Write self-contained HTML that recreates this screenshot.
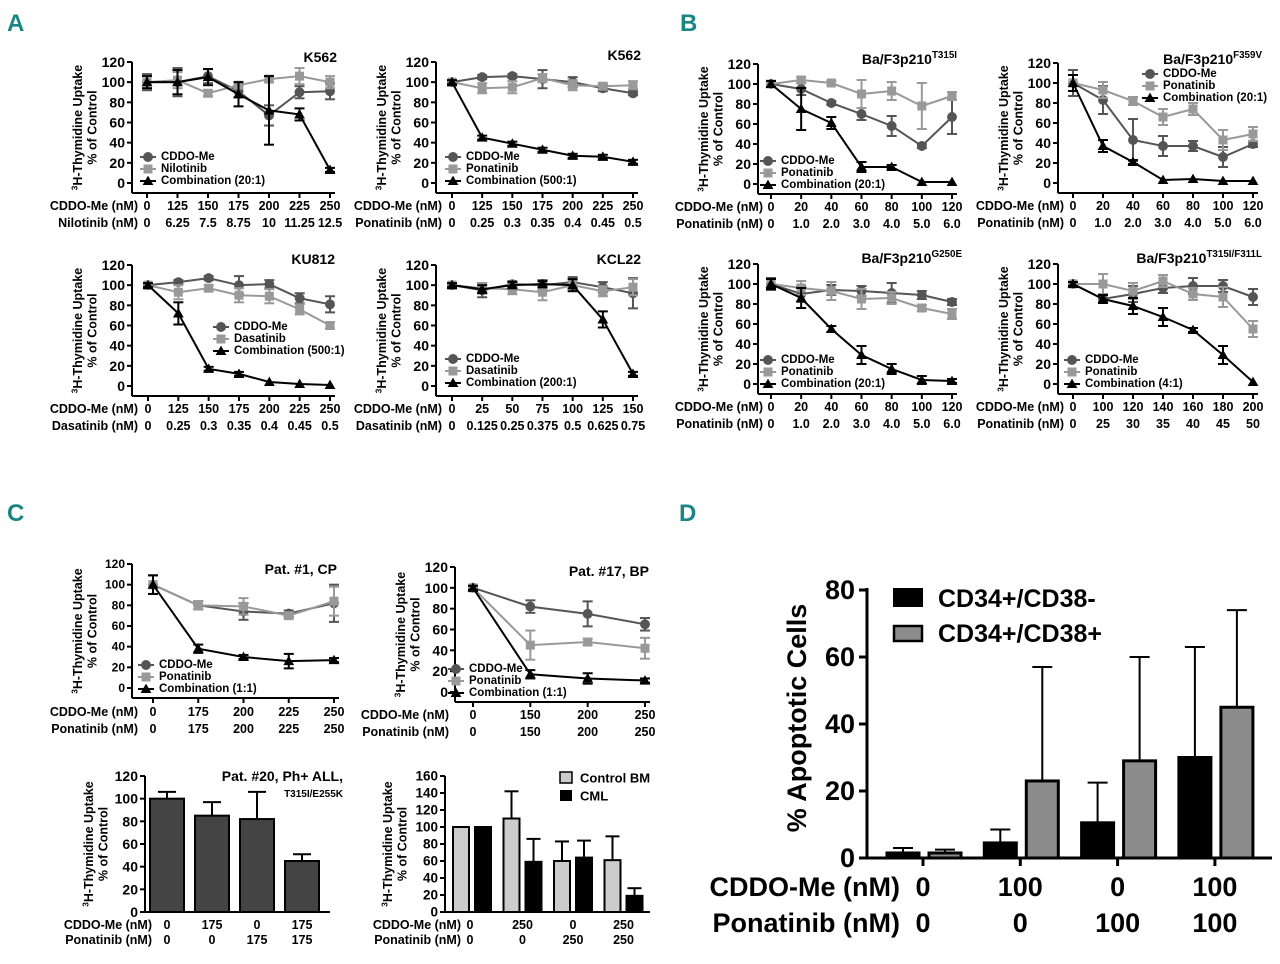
<!DOCTYPE html>
<html><head><meta charset="utf-8"><style>
html,body{margin:0;padding:0;background:#fff;}
svg{display:block;font-family:"Liberation Sans",Arial,sans-serif;font-weight:bold;}
</style></head>
<body>
<svg id="fig" width="1280" height="964" viewBox="0 0 1280 964" xmlns="http://www.w3.org/2000/svg">
<text x="7" y="31" font-size="24" fill="#1a8585" style="font-family:'Liberation Sans Narrow','Liberation Sans',sans-serif">A</text>
<text x="680" y="31" font-size="24" fill="#1a8585" style="font-family:'Liberation Sans Narrow','Liberation Sans',sans-serif">B</text>
<text x="7" y="521" font-size="24" fill="#1a8585" style="font-family:'Liberation Sans Narrow','Liberation Sans',sans-serif">C</text>
<text x="679" y="521" font-size="24" fill="#1a8585" style="font-family:'Liberation Sans Narrow','Liberation Sans',sans-serif">D</text>
</svg>
<script>
// ---------- DATA ----------
const a1Cats1=['0','125','150','175','200','225','250'];
const a1Cats2=['0','6.25','7.5','8.75','10','11.25','12.5'];
const a1Cddo=[100,100,106,91,67,90,91];
const a1CddoErr=[8,14,7,6,10,6,8];
const a1Drug=[100,102,89,97,103,106,100];
const a1DrugErr=[6,8,3,3,3,8,6];
const a1Combo=[100,100,105,88,72,68,13];
const a1ComboErr=[6,12,8,12,34,6,2];

const a2Cats1=['0','125','150','175','200','225','250'];
const a2Cats2=['0','0.25','0.3','0.35','0.4','0.45','0.5'];
const a2Cddo=[100,105,106,103,100,94,89];
const a2CddoErr=[2,2,2,9,5,3,2];
const a2Drug=[100,94,95,104,97,96,97];
const a2DrugErr=[2,5,6,4,5,3,4];
const a2Combo=[100,45,39,33,27,26,21];
const a2ComboErr=[2,2,2,2,2,2,2];

const a3Cats1=['0','125','150','175','200','225','250'];
const a3Cats2=['0','0.25','0.3','0.35','0.4','0.45','0.5'];
const a3Cddo=[100,103,107,100,101,87,81];
const a3CddoErr=[2,2,2,9,4,5,8];
const a3Drug=[100,93,97,90,89,76,60];
const a3DrugErr=[2,7,3,7,7,5,3];
const a3Combo=[100,72,17,12,4,2,1];
const a3ComboErr=[2,11,2,2,1,1,1];

const a4Cats1=['0','25','50','75','100','125','150'];
const a4Cats2=['0','0.125','0.25','0.375','0.5','0.625','0.75'];
const a4Cddo=[100,95,101,100,103,98,92];
const a4CddoErr=[2,7,3,5,5,5,15];
const a4Drug=[100,97,96,93,100,94,98];
const a4DrugErr=[2,5,5,8,4,5,8];
const a4Combo=[100,96,100,101,100,66,12];
const a4ComboErr=[2,4,3,3,6,8,2];

const b1Cats1=['0','20','40','60','80','100','120'];
const b1Cats2=['0','1.0','2.0','3.0','4.0','5.0','6.0'];
const b1Cddo=[100,95,81,70,58,38,67];
const b1CddoErr=[3,6,2,6,10,2,17];
const b1Drug=[100,104,101,90,93,78,88];
const b1DrugErr=[3,3,2,14,9,23,4];
const b1Combo=[100,75,61,17,17,2,2];
const b1ComboErr=[3,21,6,5,2,1,1];

const b2Cats1=['0','20','40','60','80','100','120'];
const b2Cats2=['0','1.0','2.0','3.0','4.0','5.0','6.0'];
const b2Cddo=[100,83,43,37,37,26,39];
const b2CddoErr=[13,14,21,10,5,10,3];
const b2Drug=[100,93,82,66,74,43,49];
const b2DrugErr=[8,8,4,8,6,10,7];
const b2Combo=[100,37,21,3,4,2,2];
const b2ComboErr=[8,6,2,1,1,1,1];

const b3Cats1=['0','20','40','60','80','100','120'];
const b3Cats2=['0','1.0','2.0','3.0','4.0','5.0','6.0'];
const b3Cddo=[100,90,94,93,91,89,82];
const b3CddoErr=[6,8,5,5,10,4,3];
const b3Drug=[100,96,93,85,86,76,70];
const b3DrugErr=[5,7,9,10,6,3,5];
const b3Combo=[100,86,55,29,15,4,3];
const b3ComboErr=[5,10,3,9,5,4,2];

const b4Cats1=['0','100','120','140','160','180','200'];
const b4Cats2=['0','25','30','35','40','45','50'];
const b4Cddo=[100,85,90,96,98,98,87];
const b4CddoErr=[2,4,8,5,8,6,8];
const b4Drug=[100,100,93,103,90,87,55];
const b4DrugErr=[2,10,8,6,6,10,8];
const b4Combo=[100,85,78,67,54,29,2];
const b4ComboErr=[2,4,8,9,2,9,1];

const c1Cats1=['0','175','200','225','250'];
const c1Cats2=['0','175','200','225','250'];
const c1Cddo=[100,80,74,72,82];
const c1CddoErr=[9,4,8,3,18];
const c1Drug=[100,80,79,70,84];
const c1DrugErr=[9,4,8,3,14];
const c1Combo=[100,38,30,26,27];
const c1ComboErr=[9,4,2,7,2];

const c2Cats1=['0','150','200','250'];
const c2Cats2=['0','150','200','250'];
const c2Cddo=[100,82,75,65];
const c2CddoErr=[2,6,12,6];
const c2Drug=[100,45,48,42];
const c2DrugErr=[2,14,3,10];
const c2Combo=[100,17,13,11];
const c2ComboErr=[2,4,5,2];

const c3Cats1=['0','175','0','175'];
const c3Cats2=['0','0','175','175'];
const c3Values=[100,85,82,45];
const c3Err=[6,12,24,6];

const c4Cats1=['0','250','0','250'];
const c4Cats2=['0','0','250','250'];
const c4Control=[100,110,60,61];
const c4ControlErr=[0,32,23,28];
const c4Cml=[100,59,64,19];
const c4CmlErr=[0,27,20,9];

const dCats1=['0','100','0','100'];
const dCats2=['0','0','100','100'];
const dNeg=[1.5,4.5,10.5,30];
const dNegErr=[1.5,4,12,33];
const dPos=[1.5,23,29,45];
const dPosErr=[1,34,31,29];

// ---------- HELPERS ----------
const NS='http://www.w3.org/2000/svg';
const root=document.getElementById('fig');
function mk(tag,attrs,name,parent,text){
  const e=document.createElementNS(NS,tag);
  for(const k in attrs) e.setAttribute(k,attrs[k]);
  
  
  if(text!==undefined) e.textContent=text;
  (parent||root).appendChild(e);
  return e;
}
const DARK='#555', LIGHT='#999', BLK='#000';

function marker(g,type,x,y,color,s){
  if(type==='circle') mk('circle',{cx:x,cy:y,r:s*0.55,fill:color},'marker-circle',g);
  else if(type==='square') mk('rect',{x:x-s/2,y:y-s/2,width:s,height:s,fill:color},'marker-square',g);
  else mk('polygon',{points:`${x},${y-s*0.6} ${x+s*0.6},${y+s*0.45} ${x-s*0.6},${y+s*0.45}`,fill:color},'marker-triangle',g);
}

function yTitle(g,x,cy,fs){
  const t=mk('text',{transform:`translate(${x},${cy}) rotate(-90)`,'text-anchor':'middle','font-size':fs},'y-axis-title',g);
  const s1=mk('tspan',{'font-size':fs*0.65,dy:-fs*0.35},'superscript',t,'3');
  const s2=mk('tspan',{dy:fs*0.35},'y-title-line1',t,'H-Thymidine Uptake');
  const s3=mk('tspan',{x:0,dy:fs*1.15},'y-title-line2',t,'% of Control');
}

function axesY(g,c,yS){
  mk('line',{x1:c.ax,y1:c.yTop,x2:c.ax,y2:c.xa,stroke:'#000','stroke-width':2},'y-axis-line',g);
  for(let v=0;v<=c.ymax;v+=c.ystep){
    mk('line',{x1:c.ax-5,y1:yS(v),x2:c.ax,y2:yS(v),stroke:'#000','stroke-width':2},'y-tick',g);
    mk('text',{x:c.ax-7,y:yS(v),'text-anchor':'end','dominant-baseline':'central','font-size':c.tfs},'y-tick-label',g,String(v));
  }
  yTitle(g,c.ax-c.ytOff,(c.yTop+c.xa)/2,c.ytfs);
}

function rowLabels(g,c,xs,cats1,cats2){
  mk('text',{x:c.rlx,y:c.xa+c.r1,'text-anchor':'end','dominant-baseline':'central','font-size':c.cfs},'x-row-label-cddo',g,'CDDO-Me (nM)');
  mk('text',{x:c.rlx,y:c.xa+c.r2,'text-anchor':'end','dominant-baseline':'central','font-size':c.cfs},'x-row-label-drug',g,c.drug+' (nM)');
  cats1.forEach((t,i)=>mk('text',{x:xs(i),y:c.xa+c.r1,'text-anchor':'middle','dominant-baseline':'central','font-size':c.cfs},'x-tick-label-cddo',g,t));
  cats2.forEach((t,i)=>mk('text',{x:xs(i),y:c.xa+c.r2,'text-anchor':'middle','dominant-baseline':'central','font-size':c.cfs},'x-tick-label-drug',g,t));
}

function lineChart(c){
  const g=mk('g',{},c.name);
  const yS=v=>c.y0-(v/c.ymax)*(c.y0-c.yTop);
  const n=c.cats1.length;
  const xS=i=>c.px0+i*(c.px1-c.px0)/(n-1);
  axesY(g,c,yS);
  mk('line',{x1:c.ax,y1:c.xa,x2:c.px1+5,y2:c.xa,stroke:'#000','stroke-width':2},'x-axis-line',g);
  for(let i=0;i<n;i++) mk('line',{x1:xS(i),y1:c.xa,x2:xS(i),y2:c.xa+5,stroke:'#000','stroke-width':2},'x-tick',g);
  rowLabels(g,c,xS,c.cats1,c.cats2);
  c.series.forEach(s=>{
    const sg=mk('g',{},'series-'+s.key,g);
    mk('polyline',{points:s.vals.map((v,i)=>`${xS(i)},${yS(v)}`).join(' '),fill:'none',stroke:s.color,'stroke-width':2},'series-line',sg);
    s.vals.forEach((v,i)=>{
      const e=s.err[i];
      if(e>1){
        mk('line',{x1:xS(i),y1:yS(v+e),x2:xS(i),y2:yS(v-e),stroke:s.color,'stroke-width':2},'error-bar',sg);
        mk('line',{x1:xS(i)-5,y1:yS(v+e),x2:xS(i)+5,y2:yS(v+e),stroke:s.color,'stroke-width':2},'error-cap',sg);
        mk('line',{x1:xS(i)-5,y1:yS(v-e),x2:xS(i)+5,y2:yS(v-e),stroke:s.color,'stroke-width':2},'error-cap',sg);
      }
      marker(sg,s.m,xS(i),yS(v),s.color,9);
    });
  });
  const lg=mk('g',{},'legend',g);
  c.series.forEach((s,k)=>{
    const y=c.ly+k*c.lstep;
    mk('line',{x1:c.lx-8,y1:y,x2:c.lx+8,y2:y,stroke:s.color,'stroke-width':2},'legend-line',lg);
    marker(lg,s.m,c.lx,y,s.color,9);
    mk('text',{x:c.lx+13,y:y,'dominant-baseline':'central','font-size':c.lfs},'legend-entry',lg,s.label);
  });
  const t=mk('text',{x:c.tx,y:c.ty,'text-anchor':'end','font-size':c.titleFs},'chart-title',g,c.title);
  if(c.sup) mk('tspan',{'font-size':c.titleFs*0.7,dy:-6},'title-superscript',t,c.sup);
}

function mkSeries(cd,ce,dv,de,combo,ce2,drugName,comboLabel){
  return [
    {key:'cddo',label:'CDDO-Me',vals:cd,err:ce,color:DARK,m:'circle'},
    {key:'drug',label:drugName,vals:dv,err:de,color:LIGHT,m:'square'},
    {key:'combo',label:comboLabel,vals:combo,err:ce2,color:BLK,m:'triangle'}
  ];
}
const base={ymax:120,ystep:20,tfs:14,titleFs:14,ytfs:12.5,ytOff:50,cfs:12.5,lfs:11.5,r1:13,r2:30,lstep:12};

lineChart(Object.assign({},base,{name:'chart-a1-k562-nilotinib',ax:132,y0:183,yTop:62,xa:193,px0:147,px1:330,rlx:138,drug:'Nilotinib',cats1:a1Cats1,cats2:a1Cats2,
  series:mkSeries(a1Cddo,a1CddoErr,a1Drug,a1DrugErr,a1Combo,a1ComboErr,'Nilotinib','Combination (20:1)'),lx:148,ly:157,title:'K562',tx:337,ty:62}));
lineChart(Object.assign({},base,{name:'chart-a2-k562-ponatinib',ax:436,y0:183,yTop:62,xa:193,px0:452,px1:633,rlx:442,drug:'Ponatinib',cats1:a2Cats1,cats2:a2Cats2,
  series:mkSeries(a2Cddo,a2CddoErr,a2Drug,a2DrugErr,a2Combo,a2ComboErr,'Ponatinib','Combination (500:1)'),lx:453,ly:157,title:'K562',tx:641,ty:60}));
lineChart(Object.assign({},base,{name:'chart-a3-ku812-dasatinib',ax:132,y0:386,yTop:265,xa:396,px0:148,px1:330,rlx:138,drug:'Dasatinib',cats1:a3Cats1,cats2:a3Cats2,
  series:mkSeries(a3Cddo,a3CddoErr,a3Drug,a3DrugErr,a3Combo,a3ComboErr,'Dasatinib','Combination (500:1)'),lx:221,ly:327,title:'KU812',tx:335,ty:264}));
lineChart(Object.assign({},base,{name:'chart-a4-kcl22-dasatinib',ax:436,y0:386,yTop:265,xa:396,px0:452,px1:633,rlx:442,drug:'Dasatinib',cats1:a4Cats1,cats2:a4Cats2,
  series:mkSeries(a4Cddo,a4CddoErr,a4Drug,a4DrugErr,a4Combo,a4ComboErr,'Dasatinib','Combination (200:1)'),lx:453,ly:359,title:'KCL22',tx:641,ty:264}));

lineChart(Object.assign({},base,{name:'chart-b1-t315i',ax:758,y0:184,yTop:64,xa:194,px0:771,px1:952,rlx:763,drug:'Ponatinib',cats1:b1Cats1,cats2:b1Cats2,
  series:mkSeries(b1Cddo,b1CddoErr,b1Drug,b1DrugErr,b1Combo,b1ComboErr,'Ponatinib','Combination (20:1)'),lx:768,ly:161,title:'Ba/F3p210',sup:'T315I',tx:957,ty:64}));
lineChart(Object.assign({},base,{name:'chart-b2-f359v',ax:1058,y0:183,yTop:63,xa:193,px0:1073,px1:1253,rlx:1064,drug:'Ponatinib',cats1:b2Cats1,cats2:b2Cats2,
  series:mkSeries(b2Cddo,b2CddoErr,b2Drug,b2DrugErr,b2Combo,b2ComboErr,'Ponatinib','Combination (20:1)'),lx:1150,ly:74,title:'Ba/F3p210',sup:'F359V',tx:1262,ty:64}));
lineChart(Object.assign({},base,{name:'chart-b3-g250e',ax:758,y0:384,yTop:264,xa:394,px0:771,px1:952,rlx:763,drug:'Ponatinib',cats1:b3Cats1,cats2:b3Cats2,
  series:mkSeries(b3Cddo,b3CddoErr,b3Drug,b3DrugErr,b3Combo,b3ComboErr,'Ponatinib','Combination (20:1)'),lx:768,ly:360,title:'Ba/F3p210',sup:'G250E',tx:962,ty:263}));
lineChart(Object.assign({},base,{name:'chart-b4-t315i-f311l',ax:1058,y0:384,yTop:264,xa:394,px0:1073,px1:1253,rlx:1064,drug:'Ponatinib',cats1:b4Cats1,cats2:b4Cats2,
  series:mkSeries(b4Cddo,b4CddoErr,b4Drug,b4DrugErr,b4Combo,b4ComboErr,'Ponatinib','Combination (4:1)'),lx:1072,ly:360,title:'Ba/F3p210',sup:'T315I/F311L',tx:1262,ty:263}));

lineChart(Object.assign({},base,{name:'chart-c1-patient1',ax:132,y0:688,yTop:564,xa:698,px0:153,px1:334,rlx:138,drug:'Ponatinib',tfs:12,cats1:c1Cats1,cats2:c1Cats2,
  series:mkSeries(c1Cddo,c1CddoErr,c1Drug,c1DrugErr,c1Combo,c1ComboErr,'Ponatinib','Combination (1:1)'),lx:146,ly:665,title:'Pat. #1, CP',tx:337,ty:574,r1:14,r2:31}));
lineChart(Object.assign({},base,{name:'chart-c2-patient17',ax:455,y0:692,yTop:567,xa:702,px0:473,px1:645,rlx:449,drug:'Ponatinib',cats1:c2Cats1,cats2:c2Cats2,
  series:mkSeries(c2Cddo,c2CddoErr,c2Drug,c2DrugErr,c2Combo,c2ComboErr,'Ponatinib','Combination (1:1)'),lx:456,ly:669,title:'Pat. #17, BP',tx:649,ty:576,r1:13,r2:30}));

// ---------- BAR CHARTS ----------
function errUp(g,x,yTop,yErr,cw){
  mk('line',{x1:x,y1:yTop,x2:x,y2:yErr,stroke:'#000','stroke-width':2},'error-bar',g);
  mk('line',{x1:x-cw,y1:yErr,x2:x+cw,y2:yErr,stroke:'#000','stroke-width':2},'error-cap',g);
}
// C3
(function(){
  const c=Object.assign({},base,{ax:145,y0:912,yTop:776,xa:912,ymax:120,ystep:20,ytOff:52,drug:'Ponatinib',rlx:152,r1:13,r2:28,cfs:12.5});
  const g=mk('g',{},'chart-c3-patient20');
  const yS=v=>c.y0-(v/c.ymax)*(c.y0-c.yTop);
  const xs=i=>167+i*45;
  axesY(g,c,yS);
  mk('line',{x1:c.ax,y1:c.xa,x2:330,y2:c.xa,stroke:'#000','stroke-width':2},'x-axis-line',g);
  c3Values.forEach((v,i)=>{
    errUp(g,xs(i),yS(v),yS(v+c3Err[i]),9);
    mk('rect',{x:xs(i)-17,y:yS(v),width:34,height:c.y0-yS(v),fill:'#444',stroke:'#000','stroke-width':2},'bar',g);
  });
  rowLabels(g,c,xs,c3Cats1,c3Cats2);
  mk('text',{x:343,y:781,'text-anchor':'end','font-size':14},'chart-title',g,'Pat. #20, Ph+ ALL,');
  mk('text',{x:343,y:797,'text-anchor':'end','font-size':10},'chart-subtitle',g,'T315I/E255K');
})();
// C4
(function(){
  const c=Object.assign({},base,{ax:445,y0:912,yTop:776,xa:912,ymax:160,ystep:20,ytOff:53,drug:'Ponatinib',rlx:461,r1:13,r2:28,cfs:12.5,tfs:13.5});
  const g=mk('g',{},'chart-c4-control-vs-cml');
  const yS=v=>c.y0-(v/c.ymax)*(c.y0-c.yTop);
  const xs=i=>471+i*50.5;
  axesY(g,c,yS);
  mk('line',{x1:c.ax,y1:c.xa,x2:650,y2:c.xa,stroke:'#000','stroke-width':2},'x-axis-line',g);
  c4Control.forEach((v,i)=>{
    const x=xs(i)-10;
    if(c4ControlErr[i]>0) errUp(g,x,yS(v),yS(v+c4ControlErr[i]),7);
    mk('rect',{x:x-8,y:yS(v),width:16,height:c.y0-yS(v),fill:'#ccc',stroke:'#000','stroke-width':2},'bar-control',g);
  });
  c4Cml.forEach((v,i)=>{
    const x=xs(i)+12;
    if(c4CmlErr[i]>0) errUp(g,x,yS(v),yS(v+c4CmlErr[i]),7);
    mk('rect',{x:x-8,y:yS(v),width:16,height:c.y0-yS(v),fill:'#000',stroke:'#000','stroke-width':2},'bar-cml',g);
  });
  rowLabels(g,c,i=>i===0?c.ax+25:xs(i)+1,c4Cats1,c4Cats2);
  const lg=mk('g',{},'legend',g);
  mk('rect',{x:560,y:772,width:12,height:11,fill:'#ccc',stroke:'#000','stroke-width':1.5},'legend-swatch-control',lg);
  mk('text',{x:580,y:778,'dominant-baseline':'central','font-size':13},'legend-entry',lg,'Control BM');
  mk('rect',{x:560,y:790,width:12,height:11,fill:'#000'},'legend-swatch-cml',lg);
  mk('text',{x:580,y:796,'dominant-baseline':'central','font-size':13},'legend-entry',lg,'CML');
})();
// D
(function(){
  const ax=867,y0=858,yTop=590,ymax=80;
  const g=mk('g',{},'chart-d-apoptosis');
  const yS=v=>y0-(v/ymax)*(y0-yTop);
  const xs=i=>923+i*97.3;
  mk('line',{x1:ax,y1:yTop-2,x2:ax,y2:y0,stroke:'#000','stroke-width':3},'y-axis-line',g);
  mk('line',{x1:ax,y1:y0,x2:1272,y2:y0,stroke:'#000','stroke-width':3},'x-axis-line',g);
  for(let v=0;v<=ymax;v+=20){
    mk('line',{x1:ax-8,y1:yS(v),x2:ax,y2:yS(v),stroke:'#000','stroke-width':3},'y-tick',g);
    mk('text',{x:ax-12,y:yS(v),'text-anchor':'end','dominant-baseline':'central','font-size':27},'y-tick-label',g,String(v));
  }
  mk('text',{transform:`translate(806,718) rotate(-90)`,'text-anchor':'middle','font-size':27},'y-axis-title',g,'% Apoptotic Cells');
  dNeg.forEach((v,i)=>{
    const x=xs(i)-20;
    errUp(g,x,yS(v),yS(v+dNegErr[i]),10);
    mk('rect',{x:x-16,y:yS(v),width:32,height:y0-yS(v),fill:'#000',stroke:'#000','stroke-width':3},'bar-cd38-neg',g);
  });
  dPos.forEach((v,i)=>{
    const x=xs(i)+22;
    errUp(g,x,yS(v),yS(v+dPosErr[i]),10);
    mk('rect',{x:x-16,y:yS(v),width:32,height:y0-yS(v),fill:'#8c8c8c',stroke:'#000','stroke-width':3},'bar-cd38-pos',g);
  });
  dCats1.forEach((t,i)=>{
    mk('line',{x1:xs(i),y1:y0,x2:xs(i),y2:y0+8,stroke:'#000','stroke-width':3},'x-tick',g);
    mk('text',{x:xs(i),y:887,'text-anchor':'middle','dominant-baseline':'central','font-size':27},'x-tick-label-cddo',g,t);
  });
  dCats2.forEach((t,i)=>mk('text',{x:xs(i),y:923,'text-anchor':'middle','dominant-baseline':'central','font-size':27},'x-tick-label-drug',g,t));
  mk('text',{x:900,y:887,'text-anchor':'end','dominant-baseline':'central','font-size':27},'x-row-label-cddo',g,'CDDO-Me (nM)');
  mk('text',{x:900,y:923,'text-anchor':'end','dominant-baseline':'central','font-size':27},'x-row-label-drug',g,'Ponatinib (nM)');
  const lg=mk('g',{},'legend',g);
  mk('rect',{x:894,y:589,width:28,height:17,fill:'#000',stroke:'#000','stroke-width':2},'legend-swatch-neg',lg);
  mk('text',{x:938,y:599,'dominant-baseline':'central','font-size':25},'legend-entry',lg,'CD34+/CD38-');
  mk('rect',{x:894,y:626,width:28,height:15,fill:'#8c8c8c',stroke:'#000','stroke-width':2.5},'legend-swatch-pos',lg);
  mk('text',{x:938,y:634,'dominant-baseline':'central','font-size':25},'legend-entry',lg,'CD34+/CD38+');
})();
</script>
</body></html>
